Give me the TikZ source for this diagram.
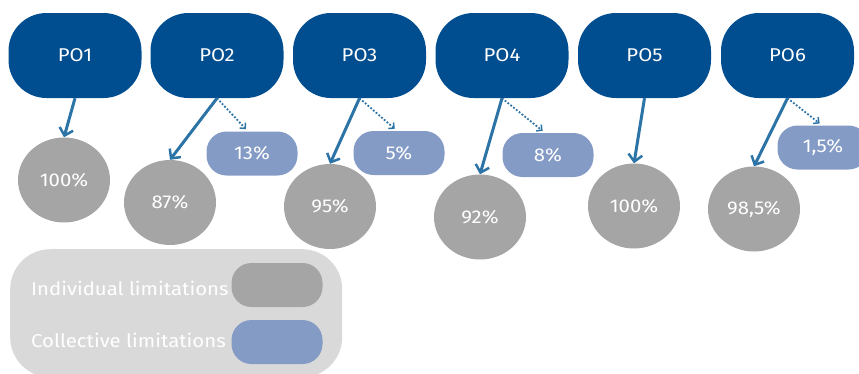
\documentclass[tikz,border=0pt]{standalone}
\usepackage{fontspec}
\setmainfont{Fira Sans}[FakeStretch=1.1]
\usetikzlibrary{shapes.geometric,arrows.meta}
\definecolor{poblue}{RGB}{0,78,143}
\definecolor{circgray}{RGB}{165,165,165}
\definecolor{pillblue}{RGB}{132,155,198}
\definecolor{arrowblue}{RGB}{44,115,166}
\definecolor{leggray}{RGB}{217,217,217}
\tikzset{
  txt/.style={text=white,font=\fontsize{18.5}{21}\selectfont},
  pobox/.style={txt,draw=none,fill=poblue,rectangle,rounded corners=38pt,minimum width=133pt,minimum height=85pt},
  indiv/.style={txt,draw=none,fill=circgray,ellipse,minimum width=92pt,minimum height=85pt,inner sep=0pt},
  collpill/.style={txt,draw=none,fill=pillblue,rectangle,rounded corners=20pt,minimum width=91pt,minimum height=44pt,inner sep=0pt},
  indivpill/.style={collpill,fill=circgray},
  solidarr/.style={draw=arrowblue,line width=3pt,-{Straight Barb[length=7pt,width=14pt,line width=2.5pt]}},
  dotarr/.style={draw=arrowblue,line width=1.8pt,dash pattern=on 1.8pt off 1.8pt,shorten >=3pt,-{Straight Barb[length=4pt,width=8pt,line width=1.5pt]}},
  legtext/.style={txt,anchor=west,inner sep=0pt}
}
\begin{document}
\begin{tikzpicture}[x=1pt,y=-1pt]
\useasboundingbox (0,0) rectangle (859,373);
% legend box
\node[draw=none,fill=leggray,rectangle,rounded corners=40pt,minimum width=332pt,minimum height=128pt,anchor=north west] (legend) at (10,249) {};
\node[legtext] (lt1) at (31,288) {Individual limitations};
\node[legtext] (lt2) at (31,340) {Collective limitations};
\node[indivpill] (lp1) at (277,285) {};
\node[collpill] (lp2) at (277,342) {};
% PO boxes
\node[pobox] (po1) at (75,55.5) {PO1};
\node[pobox] (po2) at (217,55.5) {PO2};
\node[pobox] (po3) at (359.5,55.5) {PO3};
\node[pobox] (po4) at (502,55.5) {PO4};
\node[pobox] (po5) at (644.5,55.5) {PO5};
\node[pobox] (po6) at (787.5,55.5) {PO6};
% individual circles
\node[indiv] (c1) at (64,180) {100\%};
\node[indiv] (c2) at (170,202.5) {87\%};
\node[indiv] (c3) at (330,206.5) {95\%};
\node[indiv] (c4) at (480,217) {92\%};
\node[indiv] (c5) at (634,206) {100\%};
\node[indiv] (c6) at (754,209) {98,5\%};
% collective pills
\node[collpill] (p2) at (252,153.5) {13\%};
\node[collpill] (p3) at (399,153) {5\%};
\node[collpill] (p4) at (548,155) {8\%};
\node[collpill] (p6) at (823,147.5) {1,5\%};
% arrows
\draw[solidarr] (po1.south) -- (c1.north);
\draw[solidarr] (po2.south) -- (c2.north);
\draw[solidarr] (po3.south) -- (c3.north);
\draw[solidarr] (po4.south) -- (c4.north);
\draw[solidarr] (po5.south) -- (c5.north);
\draw[solidarr] (po6.south) -- (c6.north);
\draw[dotarr] (po2.south) -- ([xshift=-4pt]p2.north);
\draw[dotarr] (po3.south) -- ([xshift=-2pt]p3.north);
\draw[dotarr] (po4.south) -- ([xshift=-3pt]p4.north);
\draw[dotarr] (po6.south) -- ([xshift=-1pt]p6.north);
\end{tikzpicture}
\end{document}
